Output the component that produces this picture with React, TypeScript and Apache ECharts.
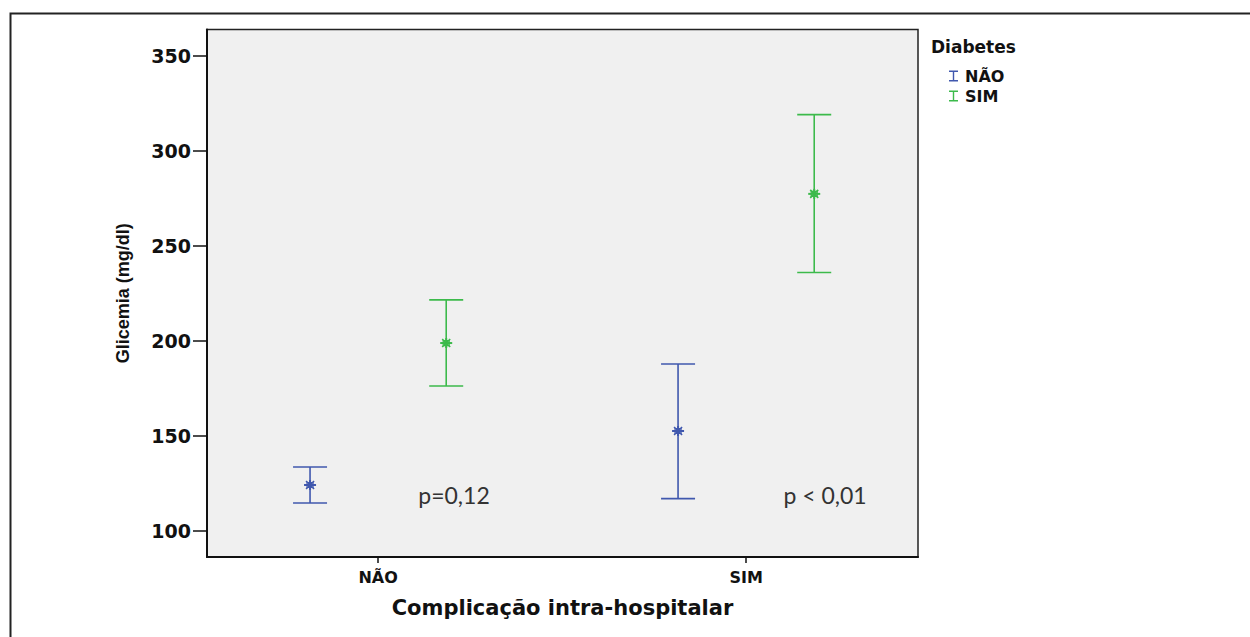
import React, { useEffect, useRef } from "react";
import * as echarts from "echarts";

// Complicação intra-hospitalar categories (x positions 1, 2)
const categories = ["NÃO", "SIM"];
const diabetesGroups = ["NÃO", "SIM"];
// Diabetes = NÃO
const meanNao = [124.2, 152.6];
const lowerNao = [114.7, 117.0];
const upperNao = [133.7, 187.9];
// Diabetes = SIM
const meanSim = [198.9, 277.4];
const lowerSim = [176.3, 236.0];
const upperSim = [221.6, 319.1];
const yTicks = [100, 150, 200, 250, 300, 350];
const pLabels = ["p=0,12", "p < 0,01"];

const BLUE = "#4058ae";
const GREEN = "#3cba4b";
const OFFSET = 0.185;

function buildData(means: number[], lowers: number[], uppers: number[], off: number) {
  return means.map((m, i) => [i + 1 + off, m, lowers[i], uppers[i]]);
}

function makeRender(color: string) {
  return (params: any, api: any) => {
    const x = api.value(0);
    const m = api.coord([x, api.value(1)]);
    const lo = api.coord([x, api.value(2)]);
    const hi = api.coord([x, api.value(3)]);
    const cw = 17;
    const st = { stroke: color, lineWidth: 1.6 };
    const cx = m[0];
    const cy = m[1];
    return {
      type: "group",
      children: [
        { type: "line", shape: { x1: cx, y1: lo[1], x2: cx, y2: hi[1] }, style: st },
        { type: "line", shape: { x1: cx - cw, y1: lo[1], x2: cx + cw, y2: lo[1] }, style: st },
        { type: "line", shape: { x1: cx - cw, y1: hi[1], x2: cx + cw, y2: hi[1] }, style: st },
        { type: "line", shape: { x1: cx - 6, y1: cy, x2: cx + 6, y2: cy }, style: { stroke: color, lineWidth: 2 } },
        { type: "line", shape: { x1: cx, y1: cy - 5, x2: cx, y2: cy + 5 }, style: { stroke: color, lineWidth: 2 } },
        { type: "line", shape: { x1: cx - 4, y1: cy - 4, x2: cx + 4, y2: cy + 4 }, style: { stroke: color, lineWidth: 1.6 } },
        { type: "line", shape: { x1: cx - 4, y1: cy + 4, x2: cx + 4, y2: cy - 4 }, style: { stroke: color, lineWidth: 1.6 } },
        { type: "rect", shape: { x: cx - 3, y: cy - 2.5, width: 6, height: 5 }, style: { fill: "none", stroke: color, lineWidth: 1.2 } },
      ],
    };
  };
}

const ICON = "path://M0,0H9V1.4H5.2V9.6H9V11H0V9.6H3.8V1.4H0Z";

export default function App() {
  const ref = useRef<HTMLDivElement>(null);
  useEffect(() => {
    if (!ref.current) return;
    const chart = echarts.init(ref.current, undefined, { renderer: "svg" });
    const tickFont = { fontFamily: "DejaVu Sans", fontWeight: "bold" as const, color: "#111" };
    chart.setOption({
      animation: false,
      backgroundColor: "#ffffff",
      grid: {
        left: 207,
        top: 29.5,
        right: 332,
        bottom: 80,
        show: true,
        backgroundColor: "#f0f0f0",
        borderColor: "#222",
        borderWidth: 1.5,
      },
      xAxis: {
        type: "value",
        min: 0.535,
        max: 2.467,
        name: "Complicação intra-hospitalar",
        nameLocation: "middle",
        nameGap: 40,
        nameTextStyle: { ...tickFont, fontSize: 21 },
        axisLine: { show: true, onZero: false, lineStyle: { color: "#111", width: 2 } },
        axisTick: { show: true, length: 6, customValues: [1, 2], lineStyle: { color: "#111", width: 1.5 } },
        axisLabel: {
          ...tickFont,
          fontSize: 16,
          margin: 12,
          customValues: [1, 2],
          formatter: (v: number) => categories[Math.round(v) - 1] ?? "",
        },
        splitLine: { show: false },
      },
      yAxis: {
        type: "value",
        min: 86.3,
        max: 363.9,
        name: "Glicemia (mg/dl)",
        nameLocation: "middle",
        nameRotate: 90,
        nameGap: 75,
        nameTextStyle: {
          fontFamily: "Liberation Sans",
          fontWeight: "bold",
          fontSize: 18,
          color: "#111",
        },
        axisLine: { show: true, onZero: false, lineStyle: { color: "#111", width: 2 } },
        axisTick: { show: true, length: 14, customValues: yTicks, lineStyle: { color: "#111", width: 1.5 } },
        axisLabel: { ...tickFont, fontSize: 19, margin: 16, customValues: yTicks },
        splitLine: { show: false },
      },
      legend: {
        orient: "vertical",
        left: 944,
        top: 63,
        itemWidth: 9,
        itemHeight: 11,
        itemGap: 4,
        textStyle: { ...tickFont, fontSize: 16, padding: [0, 0, 0, 2] },
        data: [
          { name: diabetesGroups[0], icon: ICON, itemStyle: { color: BLUE } },
          { name: diabetesGroups[1], icon: ICON, itemStyle: { color: GREEN } },
        ],
      },
      graphic: [
        {
          type: "rect",
          shape: { x: 10.5, y: 13.5, width: 1400, height: 800 },
          style: { fill: "none", stroke: "#222", lineWidth: 2 },
          silent: true,
        },
        {
          type: "text",
          left: 931,
          top: 38,
          style: { text: "Diabetes", font: "bold 17px 'DejaVu Sans'", fill: "#111" },
        },
        {
          type: "text",
          x: 454,
          y: 495,
          style: { text: pLabels[0], font: "23px Lato", fill: "#333", align: "center", verticalAlign: "middle" },
        },
        {
          type: "text",
          x: 825,
          y: 495,
          style: { text: pLabels[1], font: "23px Lato", fill: "#333", align: "center", verticalAlign: "middle" },
        },
      ],
      series: [
        {
          name: diabetesGroups[0],
          type: "custom",
          renderItem: makeRender(BLUE),
          itemStyle: { color: BLUE },
          encode: { x: 0, y: [1, 2, 3] },
          data: buildData(meanNao, lowerNao, upperNao, -OFFSET),
        },
        {
          name: diabetesGroups[1],
          type: "custom",
          renderItem: makeRender(GREEN),
          itemStyle: { color: GREEN },
          encode: { x: 0, y: [1, 2, 3] },
          data: buildData(meanSim, lowerSim, upperSim, OFFSET),
        },
      ],
    });
    return () => chart.dispose();
  }, []);
  return <div ref={ref} style={{ position: "fixed", left: 0, top: 0, width: 1250, height: 637 }} />;
}
